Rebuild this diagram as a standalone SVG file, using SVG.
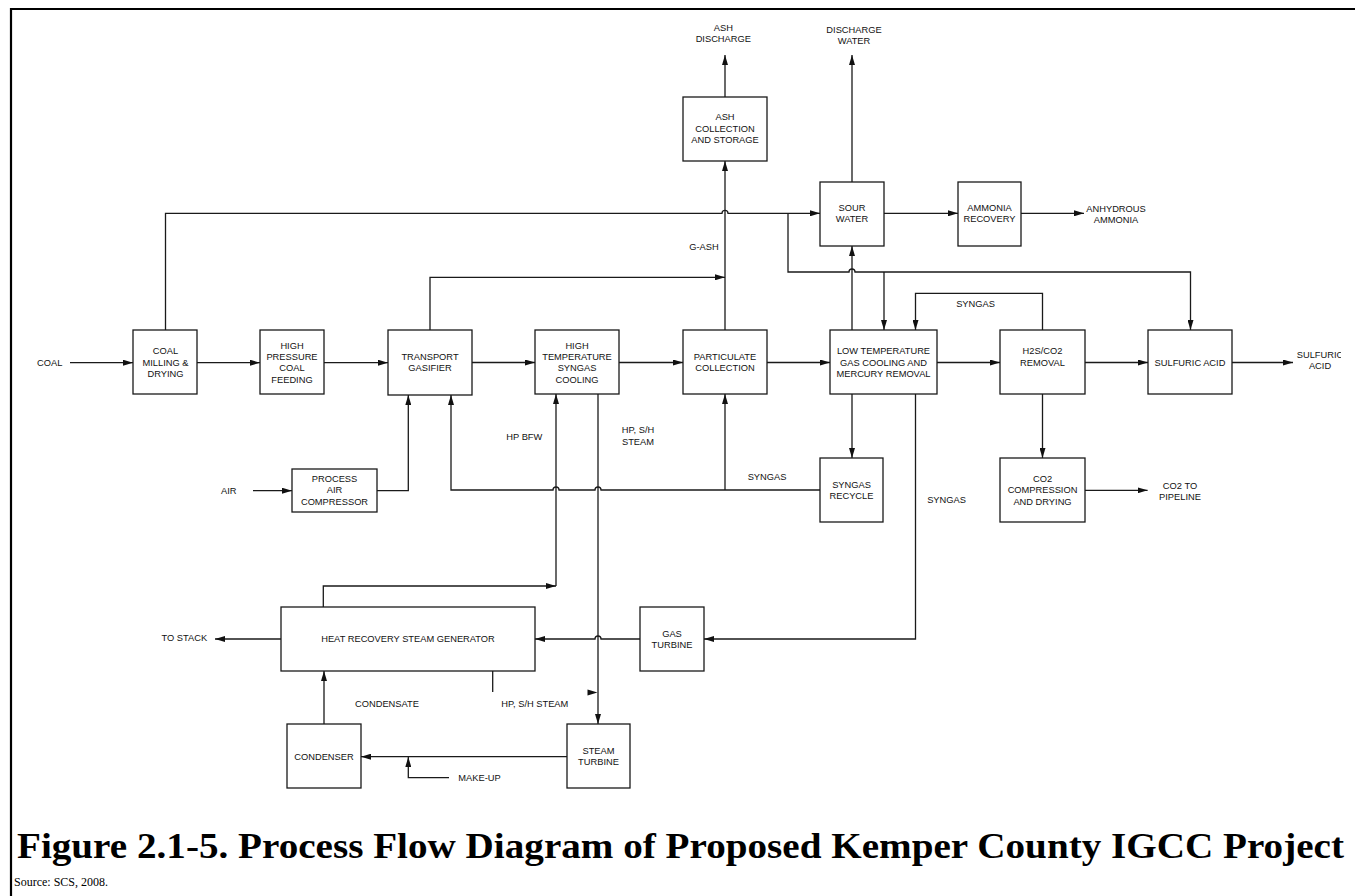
<svg xmlns="http://www.w3.org/2000/svg" width="1355" height="896" viewBox="0 0 1355 896">
<style>
.box{fill:#fff;stroke:#1a1a1a;stroke-width:1.3}
.ln{fill:none;stroke:#1a1a1a;stroke-width:1.3}
.ar{marker-end:url(#ah)}
text{font-family:"Liberation Sans",Arial,sans-serif;font-size:9.3px;fill:#111}
.c{text-anchor:middle}
.title{font-family:"Liberation Serif","Times New Roman",serif;font-size:36px;font-weight:bold;fill:#000}
.src{font-family:"Liberation Serif","Times New Roman",serif;font-size:12px;fill:#000}
</style>
<defs>
<marker id="ah" markerUnits="userSpaceOnUse" markerWidth="10" markerHeight="6" refX="10" refY="3" orient="auto">
<path d="M0,0 L10,3 L0,6 z" fill="#111"/>
</marker>
<clipPath id="clipS"><rect x="1280" y="340" width="61" height="40"/></clipPath>
</defs>
<rect width="1355" height="896" fill="#fff"/>
<g id="frame">
<path d="M10,9 H1355" stroke="#000" stroke-width="2.2" fill="none"/>
<path d="M11,8 V896" stroke="#000" stroke-width="2.2" fill="none"/>
</g>

<g id="connectors">
<path class="ln ar" d="M70,362.7 H133"/>
<path class="ln ar" d="M197,362.7 H260"/>
<path class="ln ar" d="M324,362.7 H388"/>
<path class="ln ar" d="M472,362.5 H535"/>
<path class="ln ar" d="M619,362.5 H683"/>
<path class="ln ar" d="M767,362.5 H830"/>
<path class="ln ar" d="M937,362.5 H1000"/>
<path class="ln ar" d="M1085,362.5 H1148"/>
<path class="ln ar" d="M1232,362.5 H1293"/>
<path class="ln ar" d="M165.5,330 V213.3 H722 a3,3 0 0 1 6,0 H820"/>
<path class="ln ar" d="M430,330 V277.3 H725"/>
<path class="ln ar" d="M725,330 V161"/>
<path class="ln ar" d="M725,97 V55"/>
<path class="ln ar" d="M852,182 V55"/>
<path class="ln ar" d="M884,213.3 H958"/>
<path class="ln ar" d="M1021,213.3 H1084"/>
<path class="ln ar" d="M788,213.3 V272 H849 a3,3 0 0 1 6,0 H1190.5 V330"/>
<path class="ln ar" d="M884,272 V330"/>
<path class="ln ar" d="M852,330 V246"/>
<path class="ln ar" d="M1042.5,330 V293.3 H915.5 V330"/>
<path class="ln ar" d="M852,394 V458"/>
<path class="ln ar" d="M915.5,394 V639 H704"/>
<path class="ln ar" d="M1042.5,394 V458"/>
<path class="ln ar" d="M1085,490.3 H1147.6"/>
<path class="ln ar" d="M253,490.7 H292"/>
<path class="ln ar" d="M377,490.7 H408.3 V395"/>
<path class="ln ar" d="M820,490 H601 a3,3 0 0 0 -6,0 H559 a3,3 0 0 0 -6,0 H451 V395"/>
<path class="ln ar" d="M725,490 V394"/>
<path class="ln ar" d="M323.3,607 V586 H556"/>
<path class="ln ar" d="M556,586 V394"/>
<path class="ln ar" d="M598,394 V724"/>
<path class="ln ar" d="M640,639 H601 a3,3 0 0 0 -6,0 H535"/>
<path class="ln ar" d="M281,639 H215"/>
<path class="ln" d="M492.7,671 V692"/>
<path d="M587.5,689.5 L597.5,692.5 L587.5,695.5 z" fill="#111"/>
<path class="ln ar" d="M324,724 V671"/>
<path class="ln ar" d="M567,756.7 H361"/>
<path class="ln ar" d="M449,777.7 H408.3 V757"/>
</g>

<g id="coal-milling"><rect class="box" x="133" y="330" width="64" height="64"/>
<text class="c" x="165.5" y="354.1">COAL</text><text class="c" x="165.5" y="366.1">MILLING &amp;</text><text class="c" x="165.5" y="376.7">DRYING</text></g>
<g id="hp-coal-feeding"><rect class="box" x="260" y="330" width="64" height="64"/>
<text class="c" x="292" y="349.1">HIGH</text><text class="c" x="292" y="360.1">PRESSURE</text><text class="c" x="292" y="371.1">COAL</text><text class="c" x="292" y="382.7">FEEDING</text></g>
<g id="transport-gasifier"><rect class="box" x="388" y="330" width="84" height="65"/>
<text class="c" x="430" y="360.1">TRANSPORT</text><text class="c" x="430" y="371.1">GASIFIER</text></g>
<g id="process-air-compressor"><rect class="box" x="292" y="469" width="85" height="43"/>
<text class="c" x="334.5" y="481.7">PROCESS</text><text class="c" x="334.5" y="493.1">AIR</text><text class="c" x="334.5" y="504.7">COMPRESSOR</text></g>
<g id="ht-syngas-cooling"><rect class="box" x="535" y="330" width="84" height="64"/>
<text class="c" x="577" y="348.7">HIGH</text><text class="c" x="577" y="360.1">TEMPERATURE</text><text class="c" x="577" y="371.4">SYNGAS</text><text class="c" x="577" y="383.4">COOLING</text></g>
<g id="particulate-collection"><rect class="box" x="683" y="330" width="84" height="64"/>
<text class="c" x="725" y="360.4">PARTICULATE</text><text class="c" x="725" y="371.1">COLLECTION</text></g>
<g id="ash-collection"><rect class="box" x="683" y="97" width="84" height="64"/>
<text class="c" x="725" y="120.1">ASH</text><text class="c" x="725" y="132.1">COLLECTION</text><text class="c" x="725" y="142.7">AND STORAGE</text></g>
<g id="sour-water"><rect class="box" x="820" y="182" width="64" height="64"/>
<text class="c" x="852" y="211.1">SOUR</text><text class="c" x="852" y="222.1">WATER</text></g>
<g id="ammonia-recovery"><rect class="box" x="958" y="182" width="63" height="64"/>
<text class="c" x="989.5" y="211.1">AMMONIA</text><text class="c" x="989.5" y="222.1">RECOVERY</text></g>
<g id="lt-gas-cooling"><rect class="box" x="830" y="330" width="107" height="64"/>
<text class="c" x="883.5" y="354.1">LOW TEMPERATURE</text><text class="c" x="883.5" y="366.1">GAS COOLING AND</text><text class="c" x="883.5" y="376.7">MERCURY REMOVAL</text></g>
<g id="h2s-co2-removal"><rect class="box" x="1000" y="330" width="85" height="64"/>
<text class="c" x="1042.5" y="354.1">H2S/CO2</text><text class="c" x="1042.5" y="366.1">REMOVAL</text></g>
<g id="sulfuric-acid"><rect class="box" x="1148" y="330" width="84" height="64"/>
<text class="c" x="1190" y="366.1">SULFURIC ACID</text></g>
<g id="syngas-recycle"><rect class="box" x="820" y="458" width="63" height="64"/>
<text class="c" x="851.5" y="488.4">SYNGAS</text><text class="c" x="851.5" y="499.1">RECYCLE</text></g>
<g id="co2-compression"><rect class="box" x="1000" y="458" width="85" height="64"/>
<text class="c" x="1042.5" y="481.7">CO2</text><text class="c" x="1042.5" y="493.1">COMPRESSION</text><text class="c" x="1042.5" y="504.7">AND DRYING</text></g>
<g id="gas-turbine"><rect class="box" x="640" y="607" width="64" height="64"/>
<text class="c" x="672" y="636.7">GAS</text><text class="c" x="672" y="647.7">TURBINE</text></g>
<g id="hrsg"><rect class="box" x="281" y="607" width="254" height="64"/>
<text class="c" x="408" y="642.1">HEAT RECOVERY STEAM GENERATOR</text></g>
<g id="condenser"><rect class="box" x="287" y="724" width="74" height="64"/>
<text class="c" x="324" y="760.1">CONDENSER</text></g>
<g id="steam-turbine"><rect class="box" x="567" y="724" width="63" height="64"/>
<text class="c" x="598.5" y="754.4">STEAM</text><text class="c" x="598.5" y="765.4">TURBINE</text></g>

<g id="labels">
<text x="37" y="366.1">COAL</text>
<text x="221" y="494.1">AIR</text>
<text class="c" x="723.3" y="31.1">ASH</text><text class="c" x="723.3" y="42.1">DISCHARGE</text>
<text class="c" x="854" y="33.1">DISCHARGE</text><text class="c" x="854" y="44.1">WATER</text>
<text class="c" x="1116" y="212.1">ANHYDROUS</text><text class="c" x="1116" y="223.1">AMMONIA</text>
<text class="c" x="704" y="250.1">G-ASH</text>
<text class="c" x="975.5" y="307.1">SYNGAS</text>
<g clip-path="url(#clipS)"><text class="c" x="1320" y="357.7">SULFURIC</text></g>
<text class="c" x="1320" y="369.1">ACID</text>
<text class="c" x="524.3" y="440.1">HP BFW</text>
<text class="c" x="638" y="433.4">HP, S/H</text><text class="c" x="638" y="445.1">STEAM</text>
<text class="c" x="767" y="480.4">SYNGAS</text>
<text class="c" x="946.5" y="502.7">SYNGAS</text>
<text class="c" x="1180" y="488.7">CO2 TO</text><text class="c" x="1180" y="499.7">PIPELINE</text>
<text class="c" x="184.3" y="641.1">TO STACK</text>
<text class="c" x="387" y="706.7">CONDENSATE</text>
<text class="c" x="534.8" y="706.7">HP, S/H STEAM</text>
<text x="458.3" y="781.1">MAKE-UP</text>
</g>

<g id="caption">
<text class="title" x="17" y="858" textLength="1327" lengthAdjust="spacingAndGlyphs">Figure 2.1-5. Process Flow Diagram of Proposed Kemper County IGCC Project</text>
<text class="src" x="14" y="886">Source: SCS, 2008.</text>
</g>
</svg>
